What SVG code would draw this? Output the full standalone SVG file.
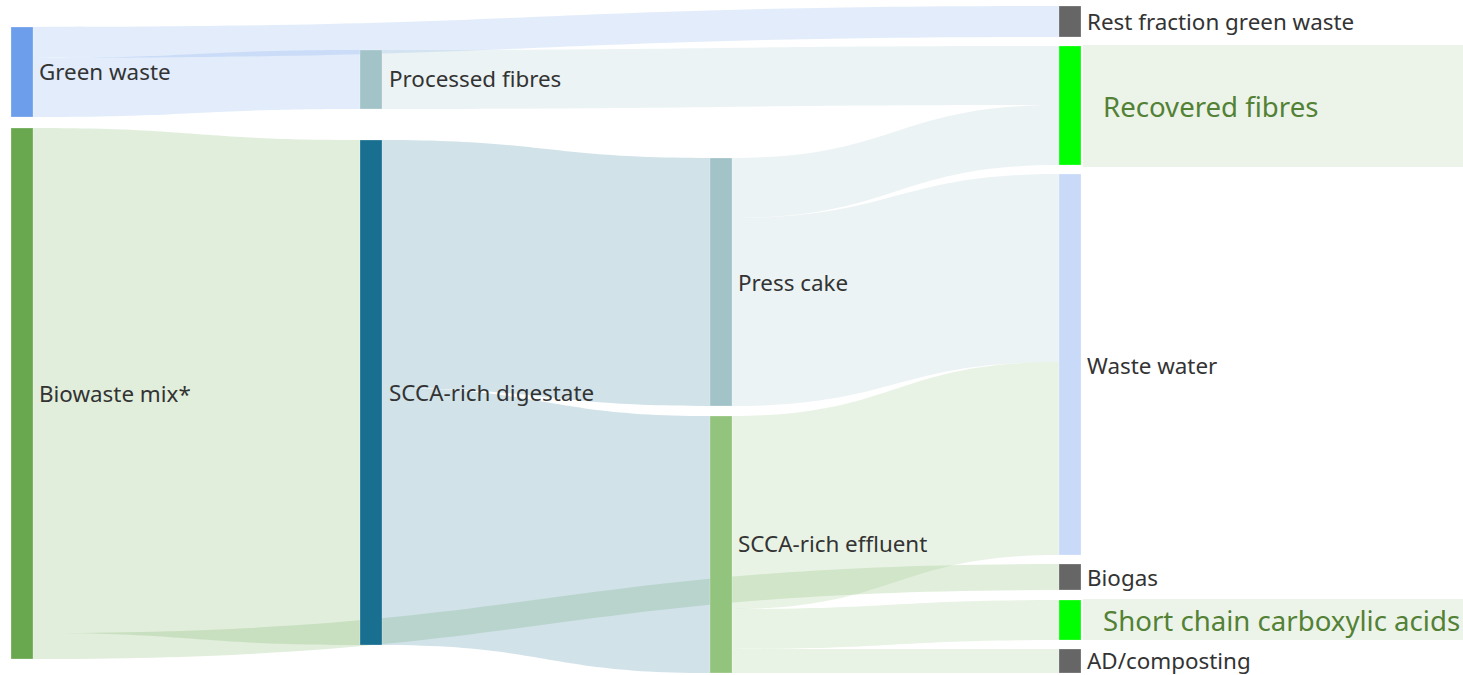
<svg xmlns="http://www.w3.org/2000/svg" width="1463" height="675" viewBox="0 0 1463 675">
<style>
.lbl{font-family:"Noto Sans","Open Sans","Liberation Sans",sans-serif;font-size:22.4px;fill:#333333}
.big{font-family:"Noto Sans","Open Sans","Liberation Sans",sans-serif;font-size:27.6px;fill:#538135}
.node{stroke:#ffffff;stroke-opacity:0.5;stroke-width:0.5}
.lk{fill-opacity:0.2;stroke:none}
</style>
<rect width="1463" height="675" fill="#ffffff"/>
<g id="highlights">
<rect x="1083" y="45" width="380" height="122" fill="#ecf4e9"/>
<rect x="1083" y="599" width="380" height="41" fill="#ecf4e9"/>
</g>
<g id="links">
<path class="lk" fill="#6d9eeb" d="M33,27 C546,27 546,6 1059,6 L1059,37 C546,37 546,58 33,58 Z"/>
<path class="lk" fill="#6d9eeb" d="M33,58 C196.5,58 196.5,50 360,50 L360,109 C196.5,109 196.5,117 33,117 Z"/>
<path class="lk" fill="#6aa84f" d="M33,128 C196.5,128 196.5,140 360,140 L360,645 C196.5,645 196.5,633 33,633 Z"/>
<path class="lk" fill="#6aa84f" d="M33,633 C546,633 546,564 1059,564 L1059,590 C546,590 546,659 33,659 Z"/>
<path class="lk" fill="#a2c4c9" d="M382,50 C720.5,50 720.5,46 1059,46 L1059,105 C720.5,105 720.5,109 382,109 Z"/>
<path class="lk" fill="#196f8f" d="M382,140 C546,140 546,158 710,158 L710,406 C546,406 546,388 382,388 Z"/>
<path class="lk" fill="#196f8f" d="M382,388 C546,388 546,416 710,416 L710,673 C546,673 546,645 382,645 Z"/>
<path class="lk" fill="#a2c4c9" d="M732,158 C895.5,158 895.5,105 1059,105 L1059,165 C895.5,165 895.5,218 732,218 Z"/>
<path class="lk" fill="#a2c4c9" d="M732,218 C895.5,218 895.5,174 1059,174 L1059,362 C895.5,362 895.5,406 732,406 Z"/>
<path class="lk" fill="#93c47d" d="M732,416 C895.5,416 895.5,362 1059,362 L1059,555 C895.5,555 895.5,609 732,609 Z"/>
<path class="lk" fill="#93c47d" d="M732,609 C895.5,609 895.5,600 1059,600 L1059,640 C895.5,640 895.5,649 732,649 Z"/>
<path class="lk" fill="#93c47d" d="M732,649 C895.5,649 895.5,649 1059,649 L1059,673 C895.5,673 895.5,673 732,673 Z"/>
</g>
<g id="n-green-waste"><rect class="node" x="11" y="27" width="22" height="90" fill="#6d9eeb"/><text class="lbl" x="39" y="72" dy="0.35em">Green waste</text></g>
<g id="n-biowaste"><rect class="node" x="11" y="128" width="22" height="531" fill="#6aa84f"/><text class="lbl" x="39" y="394" dy="0.35em">Biowaste mix*</text></g>
<g id="n-processed-fibres"><rect class="node" x="360" y="50" width="22" height="59" fill="#a2c4c9"/><text class="lbl" x="389" y="79" dy="0.35em">Processed fibres</text></g>
<g id="n-digestate"><rect class="node" x="360" y="140" width="22" height="505" fill="#196f8f"/><text class="lbl" x="389" y="393" dy="0.35em">SCCA-rich digestate</text></g>
<g id="n-press-cake"><rect class="node" x="710" y="158" width="22" height="248" fill="#a2c4c9"/><text class="lbl" x="738" y="283" dy="0.35em">Press cake</text></g>
<g id="n-effluent"><rect class="node" x="710" y="416" width="22" height="257" fill="#93c47d"/><text class="lbl" x="738" y="544" dy="0.35em">SCCA-rich effluent</text></g>
<g id="n-rest"><rect class="node" x="1059" y="6" width="22" height="31" fill="#666666"/><text class="lbl" x="1087" y="22" dy="0.35em">Rest fraction green waste</text></g>
<g id="n-recovered"><rect class="node" x="1059" y="46" width="22" height="119" fill="#00ff00"/><text class="big" x="1103" y="107" dy="0.35em">Recovered fibres</text></g>
<g id="n-waste-water"><rect class="node" x="1059" y="174" width="22" height="381" fill="#c9daf8"/><text class="lbl" x="1087" y="366" dy="0.35em">Waste water</text></g>
<g id="n-biogas"><rect class="node" x="1059" y="564" width="22" height="26" fill="#666666"/><text class="lbl" x="1087" y="578" dy="0.35em">Biogas</text></g>
<g id="n-scca"><rect class="node" x="1059" y="600" width="22" height="40" fill="#00ff00"/><text class="big" x="1103" y="621" dy="0.35em">Short chain carboxylic acids</text></g>
<g id="n-ad"><rect class="node" x="1059" y="649" width="22" height="24" fill="#666666"/><text class="lbl" x="1087" y="661" dy="0.35em">AD/composting</text></g>
</svg>
